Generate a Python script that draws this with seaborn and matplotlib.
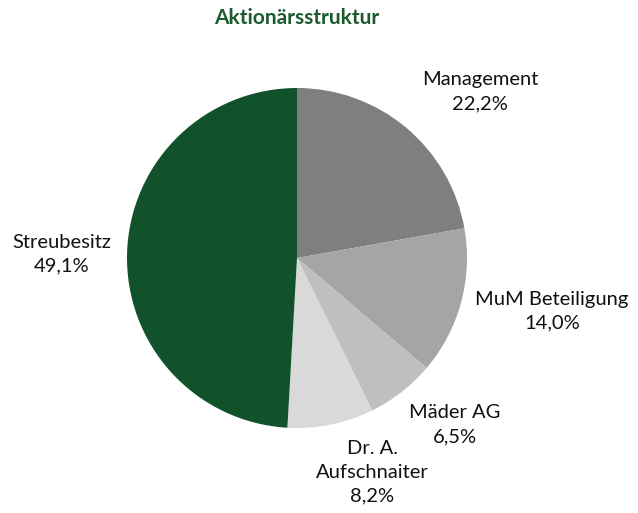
"""Aktionärsstruktur pie chart."""

import matplotlib

matplotlib.use("Agg")

import matplotlib.pyplot as plt
import seaborn as sns

categories = ["Management", "MuM Beteiligung", "Mäder AG", "Dr. A.\nAufschnaiter", "Streubesitz"]
shares = [22.2, 14.0, 6.5, 8.2, 49.1]
colors = ["#7f7f7f", "#a5a5a5", "#bfbfbf", "#d9d9d9", "#12522b"]

# label block centres in pixels (x, y from top) of a 638x513 canvas
label_px = [(480, 92), (552, 311), (455, 425), (372, 472), (62, 254)]

sns.set_theme(style="white")
plt.rcParams["font.family"] = ["Lato", "DejaVu Sans"]

W, H = 638, 513
cx, cy, r = 297, 258, 170

fig = plt.figure(figsize=(W / 100, H / 100), dpi=100)
ax = fig.add_axes([(cx - r) / W, (H - cy - r) / H, 2 * r / W, 2 * r / H])
ax.pie(
    shares,
    colors=colors,
    startangle=90,
    counterclock=False,
    radius=1,
    wedgeprops={"linewidth": 0},
)
ax.set_xlim(-1, 1)
ax.set_ylim(-1, 1)
ax.set_aspect("equal")
ax.axis("off")

for name, value, (px, py) in zip(categories, shares, label_px):
    text = f"{name}\n{str(value).replace('.', ',')}%"
    fig.text(px / W, 1 - py / H, text, ha="center", va="center",
             fontsize=14.5, color="#111111", linespacing=1.5)

fig.text(cx / W, 1 - 18 / H, "Aktionärsstruktur", ha="center", va="center",
         fontsize=15, fontweight="bold", color="#1d5b2f")

fig.savefig("out.png", dpi=100)
